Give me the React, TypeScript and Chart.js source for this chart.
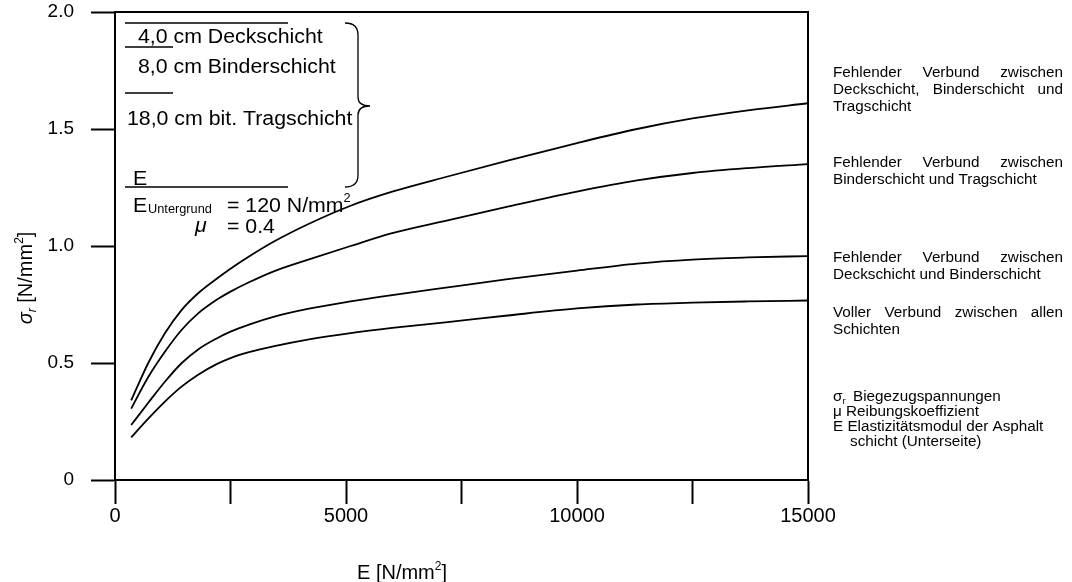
import React, { useEffect, useRef } from "react";
import { Chart, registerables } from "chart.js";

Chart.register(...registerables);

const FONT = "'Liberation Sans', Arial, Helvetica, sans-serif";

// E-Modul der Asphaltschicht [N/mm²]
const E_MODULUS = [350, 720, 1080, 1440, 1800, 2200, 2500, 2900, 3450, 4200, 5100, 6000, 7200, 8500, 10000, 11300, 12500, 13700, 15000];
// Biegezugspannungen sigma_r [N/mm²]
const SIGMA_NO_BOND_ALL = [0.34, 0.5, 0.627, 0.726, 0.798, 0.86, 0.903, 0.955, 1.02, 1.095, 1.172, 1.232, 1.297, 1.365, 1.44, 1.5, 1.545, 1.58, 1.61];
const SIGMA_NO_BOND_BINDER_BASE = [0.305, 0.44, 0.548, 0.641, 0.712, 0.77, 0.805, 0.845, 0.893, 0.943, 1.0, 1.055, 1.11, 1.168, 1.232, 1.28, 1.312, 1.333, 1.35];
const SIGMA_NO_BOND_SURFACE_BINDER = [0.235, 0.33, 0.42, 0.499, 0.558, 0.605, 0.634, 0.664, 0.698, 0.732, 0.763, 0.79, 0.823, 0.858, 0.895, 0.925, 0.942, 0.951, 0.957];
const SIGMA_FULL_BOND = [0.182, 0.262, 0.335, 0.399, 0.45, 0.495, 0.521, 0.546, 0.572, 0.601, 0.628, 0.65, 0.675, 0.703, 0.733, 0.75, 0.758, 0.763, 0.767];

const X_TICK_LABELS = [0, 5000, 10000, 15000];
const X_STEP = 2500;
const Y_STEP = 0.5;

const LEGEND_BLOCKS = [
  ["Fehlender Verbund zwischen", "Deckschicht, Binderschicht und", "Tragschicht"],
  ["Fehlender Verbund zwischen", "Binderschicht und Tragschicht"],
  ["Fehlender Verbund zwischen", "Deckschicht und Binderschicht"],
  ["Voller Verbund zwischen allen", "Schichten"],
];
const LEGEND_BASELINES = [77, 167, 262, 317];

const LAYER_TEXTS = ["4,0 cm Deckschicht", "8,0 cm Binderschicht", "18,0 cm bit. Tragschicht"];

type Seg = { t: string; size: number; dy?: number; italic?: boolean };

function drawText(
  ctx: CanvasRenderingContext2D,
  text: string,
  x: number,
  y: number,
  size: number,
  sx = 1,
  italic = false
) {
  ctx.save();
  ctx.font = `${italic ? "italic " : ""}${size}px ${FONT}`;
  ctx.textBaseline = "alphabetic";
  ctx.textAlign = "left";
  ctx.fillStyle = "#000";
  const w = ctx.measureText(text).width * sx;
  ctx.translate(x, y);
  ctx.scale(sx, 1);
  ctx.fillText(text, 0, 0);
  ctx.restore();
  return w;
}

function measure(ctx: CanvasRenderingContext2D, text: string, size: number, sx = 1, italic = false) {
  ctx.save();
  ctx.font = `${italic ? "italic " : ""}${size}px ${FONT}`;
  const w = ctx.measureText(text).width * sx;
  ctx.restore();
  return w;
}

function drawRich(ctx: CanvasRenderingContext2D, segs: Seg[], x: number, y: number, sx = 1) {
  let cx = x;
  for (const s of segs) {
    cx += drawText(ctx, s.t, cx, y + (s.dy || 0), s.size, sx, s.italic);
  }
  return cx - x;
}

function richWidth(ctx: CanvasRenderingContext2D, segs: Seg[], sx = 1) {
  return segs.reduce((a, s) => a + measure(ctx, s.t, s.size, sx, s.italic), 0);
}

function drawJustified(ctx: CanvasRenderingContext2D, text: string, x: number, y: number, width: number, size: number, sx: number) {
  const words = text.split(" ");
  const ws = words.map((w) => measure(ctx, w, size, sx));
  const total = ws.reduce((a, b) => a + b, 0);
  const gap = words.length > 1 ? (width - total) / (words.length - 1) : 0;
  let cx = x;
  words.forEach((w, i) => {
    drawText(ctx, w, cx, y, size, sx);
    cx += ws[i] + gap;
  });
}

const annotations = {
  id: "annotations",
  afterDraw(chart: any) {
    const ctx: CanvasRenderingContext2D = chart.ctx;
    const ca = chart.chartArea;
    const L = ca.left;
    const T = ca.top;

    // frame top and right
    ctx.save();
    ctx.strokeStyle = "#000";
    ctx.lineWidth = 2;
    ctx.beginPath();
    ctx.moveTo(L, T);
    ctx.lineTo(ca.right, T);
    ctx.lineTo(ca.right, ca.bottom);
    ctx.stroke();
    ctx.restore();

    // layer sketch
    ctx.save();
    ctx.strokeStyle = "#000";
    ctx.lineWidth = 1.5;
    ctx.beginPath();
    ctx.moveTo(L + 10, T + 11);
    ctx.lineTo(L + 173, T + 11);
    ctx.moveTo(L + 10, T + 35);
    ctx.lineTo(L + 58, T + 35);
    ctx.moveTo(L + 10, T + 81);
    ctx.lineTo(L + 58, T + 81);
    ctx.moveTo(L + 10, T + 175);
    ctx.lineTo(L + 173, T + 175);
    ctx.stroke();

    // brace
    const bx = L + 243;
    const top = T + 11;
    const mid = T + 94;
    const bot = T + 175;
    ctx.lineWidth = 1.3;
    ctx.beginPath();
    ctx.moveTo(bx - 13, top);
    ctx.quadraticCurveTo(bx, top, bx, top + 12);
    ctx.lineTo(bx, mid - 9);
    ctx.quadraticCurveTo(bx, mid, bx + 12, mid);
    ctx.quadraticCurveTo(bx, mid, bx, mid + 9);
    ctx.lineTo(bx, bot - 12);
    ctx.quadraticCurveTo(bx, bot, bx - 13, bot);
    ctx.stroke();
    ctx.restore();

    const SX = 1.065;
    drawText(ctx, LAYER_TEXTS[0], L + 23, T + 31, 20, SX);
    drawText(ctx, LAYER_TEXTS[1], L + 23, T + 61, 20, SX);
    drawText(ctx, LAYER_TEXTS[2], L + 12, T + 113, 20, SX);
    drawText(ctx, "E", L + 18, T + 173, 20, SX);
    drawText(ctx, "E", L + 18, T + 200, 20, SX);
    drawText(ctx, "Untergrund", L + 33, T + 201, 12, SX);
    const w = drawText(ctx, "= 120 N/mm", L + 112, T + 200, 20, SX);
    drawText(ctx, "2", L + 112 + w, T + 190, 12, SX);
    drawText(ctx, "\u03bc", L + 80, T + 220, 20, SX, true);
    drawText(ctx, "= 0.4", L + 112, T + 221, 20, SX);

    // y axis title (rotated)
    const ySegs: Seg[] = [
      { t: "\u03c3", size: 20, italic: true },
      { t: "r", size: 12, dy: 4, italic: true },
      { t: " [N/mm", size: 20 },
      { t: "2", size: 12, dy: -9 },
      { t: "]", size: 20 },
    ];
    ctx.save();
    ctx.translate(32, (T + ca.bottom) / 2 + 32);
    ctx.rotate(-Math.PI / 2);
    const yw = richWidth(ctx, ySegs);
    drawRich(ctx, ySegs, -yw / 2, 0);
    ctx.restore();

    // x axis title
    const xSegs: Seg[] = [
      { t: "E [N/mm", size: 20 },
      { t: "2", size: 12, dy: -9 },
      { t: "]", size: 20 },
    ];
    drawRich(ctx, xSegs, 357, 579);

    // right legend
    const LX = 833;
    const LW = 230;
    const LS = 14;
    const LSX = 1.09;
    LEGEND_BLOCKS.forEach((lines, bi) => {
      lines.forEach((line, li) => {
        const y = LEGEND_BASELINES[bi] + li * 17;
        if (li < lines.length - 1) drawJustified(ctx, line, LX, y, LW, LS, LSX);
        else drawText(ctx, line, LX, y, LS, LSX);
      });
    });

    // symbols
    const sw = drawText(ctx, "\u03c3", LX, 400.5, LS, LSX);
    drawText(ctx, "r", LX + sw, 403.5, 9, LSX);
    drawText(ctx, "Biegezugspannungen", LX + 20, 400.5, LS, LSX);
    drawText(ctx, "\u03bc Reibungskoeffizient", LX, 415.5, LS, LSX);
    drawText(ctx, "E Elastizitätsmodul der Asphalt", LX, 430.5, LS, LSX);
    drawText(ctx, "schicht (Unterseite)", LX + 17, 445.5, LS, LSX);
  },
};

function pts(ys: number[]) {
  return E_MODULUS.map((x, i) => ({ x, y: ys[i] }));
}

export default function App() {
  const ref = useRef<HTMLCanvasElement>(null);
  useEffect(() => {
    document.body.style.margin = "0";
    const canvas = ref.current!;
    const lineStyle = {
      borderColor: "#000",
      borderWidth: 1.8,
      pointRadius: 0,
      fill: false,
      cubicInterpolationMode: "monotone" as const,
    };
    const chart = new Chart(canvas, {
      type: "line",
      data: {
        datasets: [
          { label: "Fehlender Verbund zwischen Deckschicht, Binderschicht und Tragschicht", data: pts(SIGMA_NO_BOND_ALL), ...lineStyle },
          { label: "Fehlender Verbund zwischen Binderschicht und Tragschicht", data: pts(SIGMA_NO_BOND_BINDER_BASE), ...lineStyle },
          { label: "Fehlender Verbund zwischen Deckschicht und Binderschicht", data: pts(SIGMA_NO_BOND_SURFACE_BINDER), ...lineStyle },
          { label: "Voller Verbund zwischen allen Schichten", data: pts(SIGMA_FULL_BOND), ...lineStyle },
        ],
      },
      options: {
        responsive: false,
        animation: false,
        devicePixelRatio: 1,
        layout: { padding: { left: 0, right: 1072 - 808, top: 12, bottom: 0 } },
        plugins: { legend: { display: false }, tooltip: { enabled: false } },
        scales: {
          x: {
            type: "linear",
            min: 0,
            max: 15000,
            ticks: {
              stepSize: X_STEP,
              autoSkip: false,
              maxRotation: 0,
              padding: 0,
              color: "#000",
              font: { family: FONT, size: 20 },
              callback: (v: any) => (X_TICK_LABELS.includes(Number(v)) ? String(v) : ""),
            },
            grid: { drawOnChartArea: false, drawTicks: true, tickLength: 24, tickColor: "#000", tickWidth: 2, color: "#000" },
            border: { display: true, color: "#000", width: 2 },
            afterFit: (s: any) => {
              s.height = 102;
            },
          },
          y: {
            min: 0,
            max: 2,
            ticks: {
              stepSize: Y_STEP,
              padding: 17,
              color: "#000",
              font: { family: FONT, size: 19 },
              callback: (v: any) => (Number(v) === 0 ? "0" : Number(v).toFixed(1)),
            },
            grid: { drawOnChartArea: false, drawTicks: true, tickLength: 24, tickColor: "#000", tickWidth: 2, color: "#000" },
            border: { display: true, color: "#000", width: 2 },
            afterFit: (s: any) => {
              s.width = 115;
              s.paddingTop = 0;
              s.paddingBottom = 0;
            },
          },
        },
      } as any,
      plugins: [annotations],
    });
    return () => chart.destroy();
  }, []);
  return (
    <div style={{ width: 1072, height: 582, position: "relative", background: "#fff" }}>
      <canvas ref={ref} width={1072} height={582} style={{ display: "block", width: 1072, height: 582 }} />
    </div>
  );
}
